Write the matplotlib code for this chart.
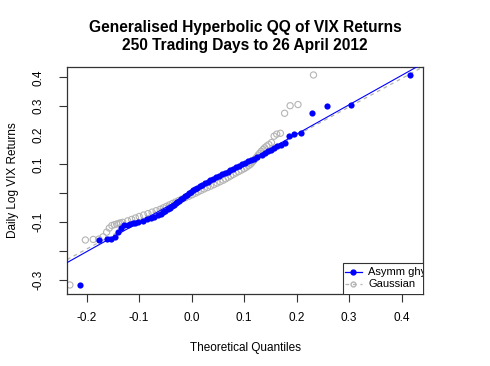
import matplotlib
matplotlib.use("Agg")
import matplotlib.pyplot as plt
from matplotlib.patches import Rectangle
from matplotlib.lines import Line2D

plt.rcParams["font.family"] = ["Liberation Sans", "DejaVu Sans"]

# ── data (sample quantiles shared by both series) ──
sample_q = [
    -0.316, -0.161, -0.159, -0.158, -0.150, -0.134, -0.120, -0.111, -0.108, -0.106, -0.104, -0.102,
    -0.100, -0.095, -0.090, -0.085, -0.080, -0.075, -0.070, -0.065, -0.060, -0.055,
    -0.050, -0.045, -0.040, -0.035, -0.030, -0.025, -0.020, -0.015, -0.010, -0.005,
    0.000, 0.005, 0.010, 0.015, 0.020, 0.025, 0.030, 0.035, 0.040, 0.045,
    0.050, 0.055, 0.060, 0.065, 0.070, 0.075, 0.080, 0.085, 0.090, 0.095,
    0.100, 0.105, 0.110, 0.115, 0.120,
    0.125, 0.132, 0.138, 0.145, 0.151, 0.157, 0.163, 0.168, 0.175, 0.197, 0.204, 0.207,
    0.276, 0.302, 0.306, 0.408,
]
ghyp_q = [
    -0.213, -0.177, -0.161, -0.153, -0.146, -0.141, -0.134, -0.128, -0.122, -0.117, -0.112, -0.108,
    -0.1014, -0.0933, -0.0850, -0.0775, -0.0713, -0.0650, -0.0591, -0.0545, -0.0500, -0.0458,
    -0.0417, -0.0379, -0.0343, -0.0307, -0.0271, -0.0236, -0.0200, -0.0164, -0.0129, -0.0092,
    -0.0054, -0.0015, 0.0025, 0.0067, 0.0109, 0.0155, 0.0200, 0.0253, 0.0305, 0.0358,
    0.0411, 0.0467, 0.0522, 0.0578, 0.0632, 0.0684, 0.0737, 0.0789, 0.0847, 0.0906,
    0.0965, 0.1022, 0.1078, 0.1133, 0.1189,
    0.1247, 0.133, 0.139, 0.145, 0.151, 0.157, 0.163, 0.170, 0.178, 0.186, 0.195, 0.208,
    0.230, 0.258, 0.303, 0.416,
]
gauss_q = [
    -0.232, -0.2025, -0.1875, -0.177, -0.169, -0.162, -0.157, -0.152, -0.147, -0.143, -0.139, -0.136,
    -0.1314, -0.1219, -0.1143, -0.1071, -0.1000, -0.0917, -0.0833, -0.0754, -0.0677, -0.0600,
    -0.0541, -0.0482, -0.0424, -0.0365, -0.0306, -0.0247, -0.0187, -0.0120, -0.0053, 0.0011,
    0.0067, 0.0122, 0.0178, 0.0238, 0.0300, 0.0363, 0.0424, 0.0482, 0.0541, 0.0600,
    0.0648, 0.0695, 0.0743, 0.0790, 0.0842, 0.0895, 0.0947, 0.1000, 0.1040, 0.1080,
    0.1120, 0.1144, 0.1168, 0.1192, 0.1216,
    0.124, 0.1267, 0.1295, 0.1326, 0.136, 0.139, 0.143, 0.147, 0.152, 0.157, 0.162, 0.169,
    0.177, 0.1875, 0.2025, 0.232,
]
# reference lines (intercept, slope)
ghyp_line = (0.0015, 1.013)
gauss_line = (0.004, 0.98)

legend_labels = ["Asymm ghyp", "Gaussian"]
x_ticks = [-0.2, -0.1, 0.0, 0.1, 0.2, 0.3, 0.4]
y_ticks = [-0.3, -0.2, -0.1, 0.0, 0.1, 0.2, 0.3, 0.4]
y_ticklabels = ["-0.3", "", "-0.1", "", "0.1", "0.2", "0.3", "0.4"]

BLUE = "#0000ff"
GREY = "#b4b4b4"

fig = plt.figure(figsize=(4.9, 3.66), dpi=100)
ax = fig.add_axes([67 / 490, 1 - 294 / 366, 356 / 490, 227 / 366])
xlim = (-0.2375, 0.4406)
ylim = (-0.3472, 0.4355)
ax.set_xlim(*xlim)
ax.set_ylim(*ylim)

ax.scatter(gauss_q, sample_q, s=20, facecolors="none", edgecolors=GREY,
           linewidths=0.8, zorder=2)
ax.scatter(ghyp_q, sample_q, s=20, color=BLUE, linewidths=0, zorder=3)

xs = list(xlim)
a, b = gauss_line
ax.plot(xs, [a + b * v for v in xs], color=GREY, lw=0.9, ls=(0, (3, 3)), zorder=2)
a, b = ghyp_line
ax.plot(xs, [a + b * v for v in xs], color=BLUE, lw=0.8, zorder=4)

# ── legend drawn by hand so that it is clipped by the plot box, like R ──
tr = ax.transAxes
ax.add_patch(Rectangle((0.7744, -0.02), 0.4, 0.156, transform=tr, facecolor="white",
                       edgecolor="#333333", lw=0.8, clip_on=True, zorder=5))
for yy, col, ls, mfc, lab in [(0.098, BLUE, "-", BLUE, legend_labels[0]),
                              (0.046, GREY, (0, (3, 3)), "none", legend_labels[1])]:
    ax.add_line(Line2D([0.781, 0.828], [yy, yy], transform=tr, color=col, ls=ls, lw=0.9,
                       clip_on=True, zorder=6))
    ax.add_line(Line2D([0.8045], [yy], transform=tr, color=col, marker="o", ms=3.5,
                       mfc=mfc, mec=col, ls="none", clip_on=True, zorder=6))
    ax.text(0.846, yy, lab, transform=tr, fontsize=8, va="center", ha="left",
            clip_on=True, zorder=7)

for s in ax.spines.values():
    s.set_color("#333333")
    s.set_linewidth(0.9)

ax.set_xticks(x_ticks)
ax.set_xticklabels([f"{v:.1f}" for v in x_ticks])
ax.set_yticks(y_ticks)
ax.set_yticklabels(y_ticklabels, rotation=90, va="center")
ax.yaxis.get_major_ticks()[5].tick1line.set_visible(False)
ax.tick_params(axis="both", length=6, width=0.8, color="#333333", labelsize=8.5)
ax.tick_params(axis="x", pad=7)
ax.tick_params(axis="y", pad=10)

ax.set_xlabel("Theoretical Quantiles", fontsize=8.5, labelpad=13)
ax.set_ylabel("Daily Log VIX Returns", fontsize=8.5, labelpad=10)

fig.text(0.5, 0.900, "Generalised Hyperbolic QQ of VIX Returns\n250 Trading Days to 26 April 2012",
         ha="center", va="center", fontsize=11.2, fontweight="bold", linespacing=1.25)

fig.savefig("out.png", dpi=100)
